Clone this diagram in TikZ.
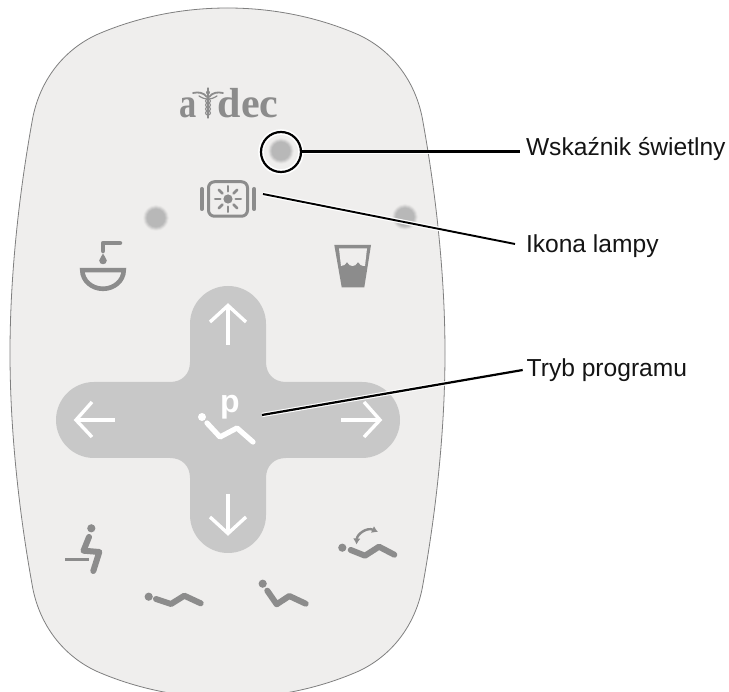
\documentclass[tikz,border=0pt]{standalone}
\usepackage{fontspec}
\setmainfont{Liberation Sans}
\newfontfamily\logofont{Liberation Serif}
\usetikzlibrary{arrows.meta}
\definecolor{panelc}{HTML}{EFEEED}
\definecolor{crossc}{HTML}{C8C8C8}
\definecolor{iconc}{HTML}{8C8C8C}
\definecolor{edgec}{HTML}{7F7F7F}
\definecolor{ledc}{HTML}{B8B8B8}
\tikzset{
  x=1pt,y=-1pt,
  iconline/.style={draw=iconc,line width=6pt,line cap=round,line join=round},
  whiteline/.style={draw=white,line width=3.4pt,line cap=butt,line join=miter},
  leaderhalo/.style={draw=white,line width=4.4pt},
  leader/.style={draw=black,line width=1.9pt},
  callout/.style={font=\fontsize{24.6pt}{28pt}\selectfont,inner sep=0pt,anchor=west,text=black!92},
  headdot/.style={circle,fill=iconc,draw=none,inner sep=0pt,minimum size=8.2pt},
  logotext/.style={font=\logofont\bfseries\fontsize{42pt}{42pt}\selectfont,text=iconc,inner sep=0pt,anchor=base west}
}
\newcommand{\ledspot}[2]{%
  \foreach \r/\p in {13/8,12.5/16,12/28,11.5/42,11/56,10.5/68,10/80,9.5/90,9/100}{
    \fill[ledc!\p!panelc] (#1,#2) circle[radius=\r];
  }%
}
\begin{document}
\begin{tikzpicture}
\useasboundingbox (0,0) rectangle (729,692);
\clip (0,0) rectangle (729,692);
% panel
\path[fill=panelc,draw=edgec,line width=0.8pt]
  (227.5,8) .. controls (175,8) and (130,20) .. (96,35)
  .. controls (60,52) and (38,85) .. (32,122)
  .. controls (18,200) and (10,280) .. (10,353)
  .. controls (10,426) and (18,506) .. (32,584)
  .. controls (38,621) and (60,654) .. (96,671)
  .. controls (130,686) and (175,698) .. (227.5,698)
  .. controls (280,698) and (325,686) .. (359,671)
  .. controls (395,654) and (417,621) .. (423,584)
  .. controls (437,506) and (445,426) .. (445,353)
  .. controls (445,280) and (437,200) .. (423,122)
  .. controls (417,85) and (395,52) .. (359,35)
  .. controls (325,20) and (280,8) .. (227.5,8) -- cycle;
% cross
\path[fill=crossc]
  (190,324) .. controls (190,303) and (207,286) .. (228,286)
  .. controls (249,286) and (266,303) .. (266,324)
  -- (266,362) .. controls (266,374) and (274,382) .. (286,382)
  -- (362,382) .. controls (383,382) and (400,399) .. (400,420)
  .. controls (400,441) and (383,458) .. (362,458)
  -- (286,458) .. controls (274,458) and (266,466) .. (266,478)
  -- (266,515) .. controls (266,536) and (249,553) .. (228,553)
  .. controls (207,553) and (190,536) .. (190,515)
  -- (190,478) .. controls (190,466) and (182,458) .. (170,458)
  -- (94,458) .. controls (73,458) and (56,441) .. (56,420)
  .. controls (56,399) and (73,382) .. (94,382)
  -- (170,382) .. controls (182,382) and (190,374) .. (190,362) -- cycle;
% arrows in the cross
\draw[whiteline] (228,345) -- (228,306);
\draw[whiteline] (210,322) -- (228,305.5) -- (246,322);
\draw[whiteline] (228,494) -- (228,533);
\draw[whiteline] (210,517) -- (228,533.5) -- (246,517);
\draw[whiteline] (115,420) -- (77,420);
\draw[whiteline] (92,402) -- (76,420) -- (92,437);
\draw[whiteline] (341,420) -- (379,420);
\draw[whiteline] (364,402) -- (380,420) -- (364,437);
% programme icon
\node[text=white,font=\bfseries\fontsize{32pt}{32pt}\selectfont,inner sep=0pt,anchor=base] (ptext) at (230,413) {p};
\fill[white] (202,417) circle[radius=4];
\draw[draw=white,line width=5.2pt,line cap=round,line join=round] (207,423) -- (220,437) -- (237,428) -- (253,442);
% logo
\node[logotext] (loga) at (179.5,118) {\scalebox{.82}[1]{a}};
\node[logotext] (logb) at (217.5,118) {dec};
\begin{scope}[draw=iconc,line cap=round]
  \draw[line width=1.2pt] (208,88) -- (208,118);
  \fill[iconc] (208,92.5) circle[radius=2];
  \draw[line width=1.8pt] (207,97) .. controls (203,92) and (198,92) .. (193,93);
  \draw[line width=1.8pt] (209,97) .. controls (213,92) and (218,92) .. (223,93);
  \draw[line width=1.2pt] (199,96) .. controls (202,98) and (205,99) .. (207,99);
  \draw[line width=1.2pt] (217,96) .. controls (214,98) and (211,99) .. (209,99);
  \foreach \yy in {101,105,109,113}{\draw[line width=1.1pt] (208,\yy) circle[x radius=2.4,y radius=2.1];}
\end{scope}
% indicator lights
\ledspot{156}{218}
\ledspot{405}{217}
\ledspot{281}{151}
% lamp icon
\node[draw=iconc,line width=3pt,rounded corners=6pt,minimum width=39pt,minimum height=34.5pt,inner sep=0pt] (lamp) at (228,199) {};
\draw[draw=iconc,line width=4pt,line cap=round] (201.8,189) -- (201.8,209);
\draw[draw=iconc,line width=4pt,line cap=round] (254.2,189) -- (254.2,209);
\fill[iconc] (lamp.center) circle[radius=4.6];
\foreach \a in {0,45,...,315}{
  \draw[draw=iconc,line width=2.8pt,line cap=round] (lamp.center) ++(\a:7.8) -- ++(\a:5);
}
% faucet and bowl
\draw[draw=iconc,line width=4.5pt,line cap=round,line join=round] (120,243) -- (103,243) -- (103,251);
\path[fill=iconc] (103,253.5) .. controls (103.5,256) and (106.8,258) .. (106.8,260.5)
  .. controls (106.8,265.5) and (99.2,265.5) .. (99.2,260.5)
  .. controls (99.2,258) and (102.5,256) .. (103,253.5) -- cycle;
\draw[draw=iconc,line width=4.6pt,line join=miter] (82.3,270.2) -- (123.7,270.2) arc[start angle=0,end angle=180,x radius=20.7,y radius=18.6] -- cycle;
% cup
\path[fill=iconc] (334.3,245) -- (371,245) -- (364.3,287.3) -- (341.7,287.3) -- cycle;
\path[fill=panelc] (339,248.5) -- (367,248.5) -- (365,266)
  .. controls (361,266) and (359.5,264.5) .. (358,262)
  .. controls (356.5,265) and (354.5,266) .. (352.5,266)
  .. controls (350.5,266) and (348.5,265) .. (347,262)
  .. controls (345.5,264.5) and (344,266) .. (341,266) -- cycle;
% seated icon
\node[headdot] (headA) at (91.3,528.3) {};
\draw[iconline] (89,537) -- (83.5,550.7) -- (99.3,552) -- (93.3,571);
\draw[draw=iconc,line width=3.3pt] (65,559.3) -- (89.3,559.3);
% flat icon
\node[headdot] (headB) at (148.7,596.7) {};
\draw[iconline] (156,599) -- (171,604) -- (184.3,595.7) -- (200.7,603.3);
% reclined icon
\node[headdot] (headC) at (262.7,583.7) {};
\draw[iconline] (267.3,590.7) -- (276.7,604.3) -- (289.3,596) -- (305.7,603.7);
% last position icon
\node[headdot] (headD) at (342.3,547.7) {};
\draw[iconline] (350.7,550) -- (365,555.7) -- (379,546.7) -- (394.3,554.7);
\draw[draw=iconc,line width=2.4pt,{Latex[length=6pt,width=7.5pt]}-{Latex[length=6pt,width=7.5pt]}] (356.5,544.5) .. controls (357,534) and (367,527) .. (378,532);
% callouts
\node[callout,text height=18pt,text depth=10pt,outer sep=6pt] (labLed) at (520,152) {Wskaźnik świetlny};
\node[callout,text height=20pt,text depth=2pt,outer sep=11pt] (labLamp) at (515,244) {Ikona lampy};
\node[callout,text height=18pt,text depth=4.6pt,outer sep=4pt] (labProg) at (522.7,370) {Tryb programu};
\node[circle,minimum size=40pt,inner sep=0pt,outer sep=0pt] (ring) at (281,152) {};
\coordinate (lampEnd) at (263,194);
\coordinate (progEnd) at (262,415);
% leaders
\draw[draw=white,line width=5.6pt] (ring.center) circle[radius=20];
\draw[leaderhalo] (lampEnd) -- (labLamp.west);
\draw[leaderhalo] (progEnd) -- (labProg.west);
\draw[leaderhalo] (ring.east) -- (labLed.west);
\draw[leader,line width=2.2pt] (ring.center) circle[radius=20];
\draw[leader,line width=3pt] (ring.east) -- (labLed.west);
\draw[leader] (lampEnd) -- (labLamp.west);
\draw[leader,line width=2.2pt] (progEnd) -- (labProg.west);
\end{tikzpicture}
\end{document}
